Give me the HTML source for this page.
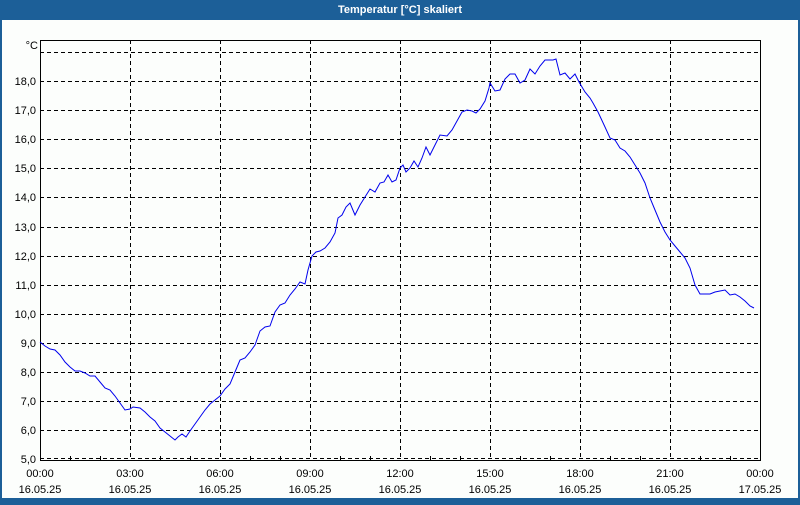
<!DOCTYPE html>
<html><head><meta charset="utf-8"><style>
html,body{margin:0;padding:0;}
body{width:800px;height:500px;overflow:hidden;background:#1c5f98;}
</style></head><body>
<svg width="800" height="500" xmlns="http://www.w3.org/2000/svg" font-family="Liberation Sans, sans-serif" font-size="11">
<rect x="0" y="0" width="800" height="500" fill="#1c5f98"/>
<rect x="2" y="20" width="796" height="478" fill="#fcfefc"/>
<text x="400" y="13" fill="#fff" font-weight="bold" text-anchor="middle" font-size="11">Temperatur [°C] skaliert</text>
<g stroke="#000" stroke-dasharray="4,3" stroke-width="1">
<line x1="40" y1="52.5" x2="760" y2="52.5"/>
<line x1="40" y1="81.5" x2="760" y2="81.5"/>
<line x1="40" y1="110.5" x2="760" y2="110.5"/>
<line x1="40" y1="139.5" x2="760" y2="139.5"/>
<line x1="40" y1="168.5" x2="760" y2="168.5"/>
<line x1="40" y1="197.5" x2="760" y2="197.5"/>
<line x1="40" y1="227.5" x2="760" y2="227.5"/>
<line x1="40" y1="256.5" x2="760" y2="256.5"/>
<line x1="40" y1="285.5" x2="760" y2="285.5"/>
<line x1="40" y1="314.5" x2="760" y2="314.5"/>
<line x1="40" y1="343.5" x2="760" y2="343.5"/>
<line x1="40" y1="372.5" x2="760" y2="372.5"/>
<line x1="40" y1="401.5" x2="760" y2="401.5"/>
<line x1="40" y1="430.5" x2="760" y2="430.5"/>
<line x1="40" y1="458.5" x2="760" y2="458.5"/>
<line x1="130.5" y1="40" x2="130.5" y2="460"/>
<line x1="220.5" y1="40" x2="220.5" y2="460"/>
<line x1="310.5" y1="40" x2="310.5" y2="460"/>
<line x1="400.5" y1="40" x2="400.5" y2="460"/>
<line x1="490.5" y1="40" x2="490.5" y2="460"/>
<line x1="580.5" y1="40" x2="580.5" y2="460"/>
<line x1="670.5" y1="40" x2="670.5" y2="460"/>
</g>
<rect x="40.5" y="40.5" width="720" height="420" fill="none" stroke="#000" stroke-width="1"/>
<g stroke="#000">
<line x1="70.5" y1="460" x2="70.5" y2="456"/><line x1="100.5" y1="460" x2="100.5" y2="456"/>
<line x1="160.5" y1="460" x2="160.5" y2="456"/><line x1="190.5" y1="460" x2="190.5" y2="456"/>
<line x1="250.5" y1="460" x2="250.5" y2="456"/><line x1="280.5" y1="460" x2="280.5" y2="456"/>
<line x1="340.5" y1="460" x2="340.5" y2="456"/><line x1="370.5" y1="460" x2="370.5" y2="456"/>
<line x1="430.5" y1="460" x2="430.5" y2="456"/><line x1="460.5" y1="460" x2="460.5" y2="456"/>
<line x1="520.5" y1="460" x2="520.5" y2="456"/><line x1="550.5" y1="460" x2="550.5" y2="456"/>
<line x1="610.5" y1="460" x2="610.5" y2="456"/><line x1="640.5" y1="460" x2="640.5" y2="456"/>
<line x1="700.5" y1="460" x2="700.5" y2="456"/><line x1="730.5" y1="460" x2="730.5" y2="456"/>
</g>
<g fill="#000" text-anchor="end">
<text x="38" y="49">°C</text>
<text x="36" y="85">18,0</text><text x="36" y="114">17,0</text><text x="36" y="143">16,0</text>
<text x="36" y="172">15,0</text><text x="36" y="201">14,0</text><text x="36" y="231">13,0</text>
<text x="36" y="260">12,0</text><text x="36" y="289">11,0</text><text x="36" y="318">10,0</text>
<text x="36" y="347">9,0</text><text x="36" y="376">8,0</text><text x="36" y="405">7,0</text>
<text x="36" y="434">6,0</text><text x="36" y="463">5,0</text>
</g>
<g fill="#000" text-anchor="middle">
<text x="40" y="477">00:00</text><text x="40" y="493">16.05.25</text>
<text x="130" y="477">03:00</text><text x="130" y="493">16.05.25</text>
<text x="220" y="477">06:00</text><text x="220" y="493">16.05.25</text>
<text x="310" y="477">09:00</text><text x="310" y="493">16.05.25</text>
<text x="400" y="477">12:00</text><text x="400" y="493">16.05.25</text>
<text x="490" y="477">15:00</text><text x="490" y="493">16.05.25</text>
<text x="580" y="477">18:00</text><text x="580" y="493">16.05.25</text>
<text x="670" y="477">21:00</text><text x="670" y="493">16.05.25</text>
<text x="760" y="477">00:00</text><text x="760" y="493">17.05.25</text>
</g>
<polyline fill="none" stroke="#0000ee" stroke-width="1" points="40,342 45,346 50,349 55,350 60,355 65,362 70,367 75,371 80,371 85,373 90,376 95,376 100,382 105,388 110,390 115,396 120,403 125,410 130,409 133,407 140,408 145,412 150,417 155,421 160,428 165,432 170,436 175,440 178,437 182,434 186,437 190,431 195,424 200,417 205,410 210,404 215,400 220,396 225,389 230,384 235,372 240,360 245,358 250,352 255,345 260,331 265,327 270,326 275,312 280,305 285,303 290,295 295,289 300,282 305,284 308,270 312,256 316,252 320,251 325,248 330,242 335,233 338,218 342,215 346,207 350,203 355,215 360,205 365,197 370,189 375,192 380,183 384,182 388,175 392,182 396,180 400,168 403,165 406,172 410,168 414,161 418,167 422,158 426,147 430,155 435,145 440,135 447,136 452,130 457,121 462,112 467,110 472,111 476,113 480,109 485,101 489,88 490,83 495,91 500,90 505,79 510,74 515,74 520,83 525,80 530,69 535,74 540,66 545,60 553,60 556,59 560,75 565,73 570,79 575,74 579,82 585,92 590,98 593,103 598,112 605,127 610,138 615,140 620,148 625,151 630,157 635,165 640,173 645,183 650,198 655,210 660,222 665,232 670,240 675,246 680,252 685,258 690,268 695,285 700,294 705,294 710,294 715,292 720,291 725,290 730,295 735,294 740,297 745,301 750,306 754,308"/>
</svg>
</body></html>
